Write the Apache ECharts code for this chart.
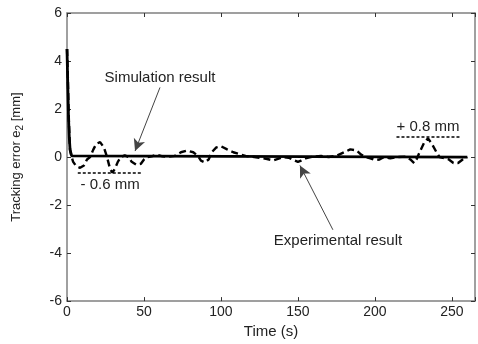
<!DOCTYPE html>
<html><head><meta charset="utf-8">
<script src="https://cdn.jsdelivr.net/npm/echarts@6/dist/echarts.min.js"></script>
<style>html,body{margin:0;padding:0;background:#fff}#c{width:478px;height:344px}</style>
</head><body><div id="c"></div>
<script>
// Simulation result (solid)
const simT = [0, 0.5, 1, 1.5, 2, 3, 4, 260];
const simV = [4.5, 3.0, 1.6, 0.8, 0.3, 0.05, 0, 0];
// Experimental result (dashed)
const expT = [0,0.5,1,1.5,2,3,4,6,8.5,11,13,15,17,19,21.5,24,26,28,29.5,31,33,35,37.5,40,42,45,48,50,52,55,58,62,66,70,74,78,82,85,87,89.5,92,94,97,100,104,108,112,116,120,125,130,134,137,140,144,147,150,152,155,160,165,170,175,180,184,188,191,194,197,200,203,206,210,215,220,223,225.5,227,229,232,234.5,237,240,242,245,248,251,254,257,260];
const expV = [4.5,3.5,2.0,1.0,0.3,0.0,-0.2,-0.38,-0.45,-0.35,-0.1,0.0,0.3,0.55,0.62,0.4,0.0,-0.5,-0.65,-0.5,-0.2,0.0,0.07,0.0,-0.2,-0.32,-0.28,-0.1,0.0,0.03,0.1,0.03,0.02,0.05,0.2,0.27,0.2,0.05,-0.15,-0.22,-0.1,0.2,0.4,0.45,0.32,0.2,0.12,0.05,0.02,-0.03,-0.08,-0.14,-0.08,0.0,-0.03,-0.12,-0.2,-0.15,-0.05,0.02,0.05,0.0,0.05,0.2,0.32,0.28,0.1,0.0,-0.05,-0.12,-0.1,0.0,-0.05,0.0,0.02,-0.1,-0.25,-0.1,0.2,0.6,0.78,0.55,0.2,0.0,-0.05,-0.1,-0.25,-0.25,-0.1,0.0];
// Reference bounds
const negBound = {t: [7, 49], v: -0.65, text: '- 0.6 mm', textAt: [28, -1.17]};
const posBound = {t: [214, 256], v: 0.85, text: '+ 0.8 mm', textAt: [234.5, 1.26]};
// Annotations (data coords)
const simNote = {text: 'Simulation result', textAt: [60.4, 3.3], from: [60.4, 2.9], to: [44.2, 0.25]};
const expNote = {text: 'Experimental result', textAt: [176, -3.48], from: [172.7, -3.03], to: [151.3, -0.35]};
const xTicks = [0, 50, 100, 150, 200, 250];

const axisColor = '#808080';
const font = 'Liberation Sans, Arial, sans-serif';
const zip = (a, b) => a.map((x, i) => [x, b[i]]);

const chart = echarts.init(document.getElementById('c'));
const arrow = (n) => [{coord: n.from, symbol: 'none'}, {coord: n.to, symbol: 'arrow'}];
const bound = (b) => [{coord: [b.t[0], b.v], symbol: 'none'}, {coord: [b.t[1], b.v], symbol: 'none'}];
const note = (txt, at) => ({coord: at, symbol: 'circle', symbolSize: 0,
  label: {show: true, position: 'inside', formatter: txt, color: '#222', fontSize: 15, fontFamily: font}});

const baseAxis = {
  axisLine: {show: true, onZero: false, lineStyle: {color: axisColor, width: 1.5}},
  axisTick: {show: true, inside: true, length: 4, lineStyle: {color: '#333', width: 1}},
  splitLine: {show: false},
};

chart.setOption({
  animation: false,
  backgroundColor: '#fff',
  grid: {left: 67, right: 3, top: 13, bottom: 40},
  xAxis: [
    Object.assign({}, baseAxis, {type: 'value', min: 0, max: 265, interval: 50, position: 'bottom',
      axisLabel: {color: '#222', fontSize: 14, fontFamily: font, margin: 4,
        formatter: v => xTicks.includes(v) ? String(v) : ''},
      name: 'Time (s)', nameLocation: 'middle', nameGap: 14,
      nameTextStyle: {color: '#222', fontSize: 15, fontFamily: font}}),
    Object.assign({}, baseAxis, {type: 'value', min: 0, max: 265, interval: 50, position: 'top',
      axisLabel: {show: false}})
  ],
  yAxis: [
    Object.assign({}, baseAxis, {type: 'value', min: -6, max: 6, interval: 2, position: 'left',
      axisLabel: {color: '#222', fontSize: 14, fontFamily: font, margin: 5},
      name: '{m|Tracking error e}{s|2}{m| [mm]}', nameLocation: 'middle', nameGap: 42,
      nameTextStyle: {color: '#222', fontSize: 13, fontFamily: font,
        rich: {
          m: {fontSize: 13, fontFamily: font, color: '#222', verticalAlign: 'top', lineHeight: 15},
          s: {fontSize: 10, fontFamily: font, color: '#222', verticalAlign: 'bottom', lineHeight: 12, padding: [7, 0, 0, 0]}
        }}}),
    Object.assign({}, baseAxis, {type: 'value', min: -6, max: 6, interval: 2, position: 'right',
      axisLabel: {show: false}})
  ],
  series: [
    {type: 'line', name: 'Simulation', data: zip(simT, simV), showSymbol: false,
      lineStyle: {color: '#000', width: 2.8}, z: 3},
    {type: 'line', name: 'Experimental', data: zip(expT, expV), showSymbol: false,
      lineStyle: {color: '#000', width: 2.4, type: [7, 4]}, z: 4},
    {type: 'line', name: 'notes', data: [], silent: true,
      markLine: {silent: true, animation: false, label: {show: false},
        symbolSize: [9, 12],
        data: [arrow(simNote), arrow(expNote)]
          .map(d => d.map(p => Object.assign(p, {lineStyle: {color: '#444', width: 1, type: 'solid'}, itemStyle: {color: '#222'}})))
          .concat([bound(negBound), bound(posBound)].map(d => d.map(p => Object.assign(p, {lineStyle: {color: '#000', width: 1.5, type: [3, 2]}}))))
      },
      markPoint: {silent: true, animation: false,
        data: [note(simNote.text, simNote.textAt), note(expNote.text, expNote.textAt),
               note(negBound.text, negBound.textAt), note(posBound.text, posBound.textAt)]}
    }
  ]
});
</script></body></html>
